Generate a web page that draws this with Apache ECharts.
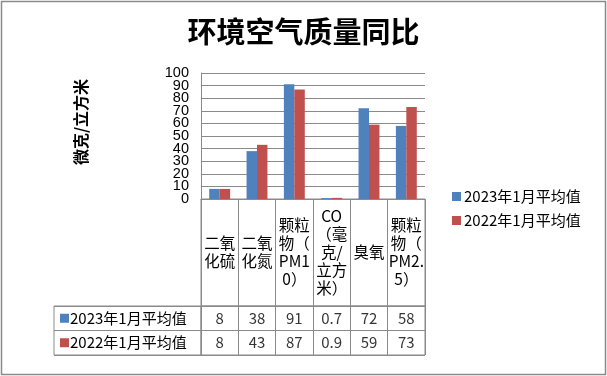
<!DOCTYPE html>
<html lang="zh">
<head>
<meta charset="utf-8" />
<title>环境空气质量同比</title>
<script src="https://cdn.jsdelivr.net/npm/echarts/dist/echarts.min.js"></script>
</head>
<body style="margin:0;background:#fff">
<div id="chart" style="width:607px;height:376px"></div>
<script>
// 数据
const categories = ['二氧\n化硫', '二氧\n化氮', '颗粒\n物（\nPM1\n0）', 'CO\n（毫\n克/\n立方\n米）', '臭氧', '颗粒\n物（\nPM2.\n5）']
const seriesNames = ['2023年1月平均值', '2022年1月平均值']
const values2023 = [8, 38, 91, 0.7, 72, 58]
const values2022 = [8, 43, 87, 0.9, 59, 73]
const yTicks = { min: 0, max: 100, interval: 10 }

const colors = ['#4F81BD', '#C0504D']
const lineColor = '#8a8a8a'
const font = "'Noto Sans CJK SC', sans-serif"
const numFont = "'Liberation Sans', sans-serif"

let chart = echarts.init(document.getElementById('chart'))

// 表格单元格里的数值
function cellData(vals, row) {
    return vals.map((v, i) => [i, row, v])
}

let yLabel = { fontSize: 14.5, margin: 12, color: '#000', fontFamily: numFont }

let option = {
    animation: false,
    color: colors,
    textStyle: { fontFamily: font, color: '#000' },
    title: {
        text: '环境空气质量同比',
        left: 'center',
        top: 12,
        textStyle: { fontSize: 29, fontWeight: 'bold', fontFamily: font, color: '#000' }
    },
    legend: {
        data: seriesNames,
        orient: 'vertical',
        left: 447,
        top: 184,
        itemWidth: 9,
        itemHeight: 9,
        itemGap: 9,
        icon: 'rect',
        textStyle: { fontSize: 15, color: '#000', padding: [0, 0, 0, -2] }
    },
    graphic: [
        {
            type: 'rect',
            shape: { x: 1.5, y: 1.5, width: 604, height: 373 },
            style: { fill: 'none', stroke: '#8a8a8a', lineWidth: 1.5 },
            silent: true
        },
        {
            type: 'text',
            x: 81,
            y: 122,
            rotation: Math.PI / 2,
            style: {
                text: '微克/立方米',
                font: 'bold 16px ' + font,
                fill: '#000',
                align: 'center',
                verticalAlign: 'middle'
            }
        }
    ],
    grid: [
        { left: 201, top: 73, width: 224, height: 126 },
        { left: 201, top: 199, width: 224, height: 107, show: true, borderColor: lineColor, borderWidth: 1 },
        { left: 201, top: 306, width: 224, height: 49, show: true, borderColor: lineColor, borderWidth: 1 },
        { left: 54, top: 306, width: 147, height: 49, show: true, borderColor: lineColor, borderWidth: 1 }
    ],
    xAxis: [
        {
            gridIndex: 0, type: 'category', data: categories,
            axisLine: { lineStyle: { color: lineColor } },
            axisTick: { show: false },
            axisLabel: {
                interval: 0, margin: 53, verticalAlign: 'middle',
                fontSize: 15.5, lineHeight: 18, color: '#000'
            }
        },
        {
            gridIndex: 1, type: 'category', data: categories,
            axisLine: { show: false }, axisTick: { show: false }, axisLabel: { show: false },
            splitLine: { show: true, interval: 0, lineStyle: { color: lineColor } }
        },
        {
            gridIndex: 2, type: 'category', data: categories,
            axisLine: { show: false }, axisTick: { show: false }, axisLabel: { show: false },
            splitLine: { show: true, interval: 0, lineStyle: { color: lineColor } }
        },
        { gridIndex: 3, type: 'category', data: [''], show: false }
    ],
    yAxis: [
        {
            // 10..90 的刻度
            gridIndex: 0, type: 'value',
            min: yTicks.min, max: yTicks.max, interval: yTicks.interval,
            axisLine: { show: true, lineStyle: { color: lineColor } },
            axisTick: { show: false },
            splitLine: { lineStyle: { color: lineColor } },
            axisLabel: Object.assign({ showMinLabel: false, showMaxLabel: false }, yLabel)
        },
        {
            // 0 和 100 单独画，免得被重叠检测藏掉
            gridIndex: 0, type: 'value', position: 'left',
            min: yTicks.min, max: yTicks.max, interval: yTicks.max - yTicks.min,
            axisLine: { show: false }, axisTick: { show: false }, splitLine: { show: false },
            axisLabel: yLabel
        },
        { gridIndex: 1, type: 'value', show: false },
        {
            gridIndex: 2, type: 'category', data: seriesNames, inverse: true,
            axisLine: { show: false }, axisTick: { show: false }, axisLabel: { show: false },
            splitLine: { show: true, interval: 0, lineStyle: { color: lineColor } }
        },
        {
            gridIndex: 3, type: 'category', data: seriesNames, inverse: true,
            axisLine: { show: false }, axisTick: { show: false },
            splitLine: { show: true, interval: 0, lineStyle: { color: lineColor } },
            axisLabel: {
                inside: true, margin: 6, align: 'left',
                formatter: function(name) {
                    let k = seriesNames.indexOf(name) === 0 ? 'a' : 'b'
                    return '{' + k + '|}{t|' + name + '}'
                },
                rich: {
                    a: { width: 9, height: 9, backgroundColor: colors[0] },
                    b: { width: 9, height: 9, backgroundColor: colors[1] },
                    t: { fontSize: 15, color: '#000', padding: [0, 0, 0, 1] }
                }
            }
        }
    ],
    series: [
        {
            name: seriesNames[0], type: 'bar', data: values2023,
            xAxisIndex: 0, yAxisIndex: 0, barGap: '0%', barCategoryGap: '44%'
        },
        {
            name: seriesNames[1], type: 'bar', data: values2022,
            xAxisIndex: 0, yAxisIndex: 0, barGap: '0%', barCategoryGap: '44%'
        },
        {
            name: 'cells', type: 'scatter', xAxisIndex: 2, yAxisIndex: 3,
            data: cellData(values2023, 0).concat(cellData(values2022, 1)),
            symbolSize: 1,
            itemStyle: { color: 'rgba(0,0,0,0)' },
            label: {
                show: true, position: 'inside', fontSize: 15, color: '#000',
                formatter: p => String(p.value[2])
            }
        }
    ]
}
chart.setOption(option)
</script>
</body>
</html>
